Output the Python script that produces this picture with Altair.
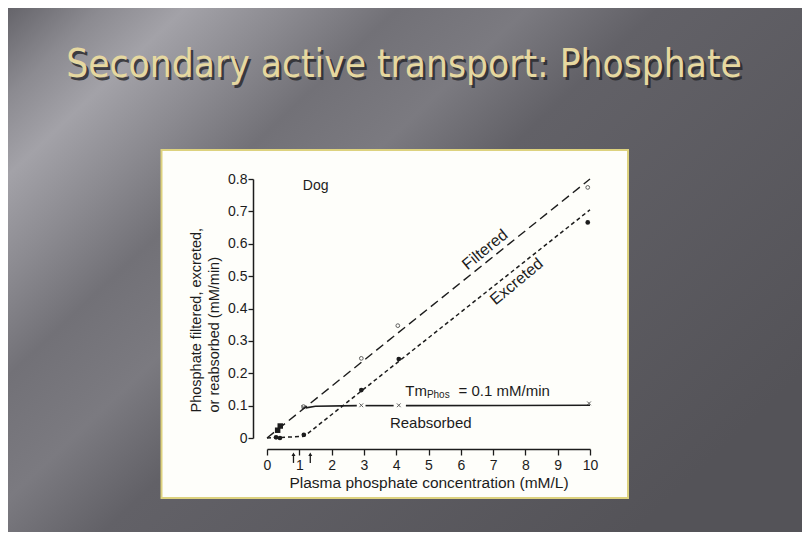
import altair as alt
import pandas as pd

# ---------------- data ----------------
x_ticks = [0, 1, 2, 3, 4, 5, 6, 7, 8, 9, 10]
y_ticks = [0, 0.1, 0.2, 0.3, 0.4, 0.5, 0.6, 0.7, 0.8]

filtered_line_x = [0, 10]
filtered_line_y = [0.0, 0.8]
excreted_line_x = [0, 1.15, 10]
excreted_line_y = [0.0, 0.005, 0.705]
reabs_seg = [1, 1, 1, 2, 2, 3, 3]
reabs_line_x = [1.2, 1.5, 2.78, 3.05, 3.92, 4.3, 10]
reabs_line_y = [0.093, 0.098, 0.1, 0.1, 0.1, 0.1, 0.101]

filtered_pts_x = [1.13, 2.92, 4.05, 9.93]
filtered_pts_y = [0.097, 0.246, 0.347, 0.774]
low_pts_x = [0.33, 0.41]
low_pts_y = [0.024, 0.037]
excreted_pts_x = [0.28, 0.40, 1.14, 2.92, 4.08, 9.93]
excreted_pts_y = [0.002, 0.0, 0.01, 0.148, 0.244, 0.666]
reabs_pts_x = [1.13, 2.92, 4.08, 9.97]
reabs_pts_y = [0.095, 0.101, 0.101, 0.107]
arrow_x = [0.82, 1.34]

title_text = "Secondary active transport: Phosphate"
x_title = "Plasma phosphate concentration (mM/L)"
y_title = ["Phosphate filtered, excreted,", "or reabsorbed (mM/min)"]

# ---------------- style ----------------
INK = "#1c1c1c"
FONT = "Liberation Sans"
TITLE_FONT = "Liberation Sans Narrow, DejaVu Sans Condensed, sans-serif"
W, H = 323, 259
PAD = {"left": 259, "top": 171, "right": 212, "bottom": 94}

x_scale = alt.Scale(domain=[0, 10], nice=False, zero=False)
y_scale = alt.Scale(domain=[0, 0.8], nice=False, zero=False)

x_axis = alt.Axis(
    values=x_ticks, format="d", offset=11, tickSize=6, tickColor=INK, tickWidth=1.3,
    domainColor=INK, domainWidth=1.5, labelFont=FONT, labelFontSize=14, labelColor=INK,
    labelPadding=3, labelFlush=False, labelOverlap=False, grid=False, zindex=2,
    title=x_title, titleFont=FONT, titleFontSize=15.5, titleFontWeight="normal",
    titleColor=INK, titleX=161.5, titleY=38, titleAlign="center", titleBaseline="alphabetic",
)
y_axis = alt.Axis(
    values=y_ticks, format=".1~f", offset=14, tickSize=5, tickColor=INK, tickWidth=1.3,
    domainColor=INK, domainWidth=1.5, labelFont=FONT, labelFontSize=14, labelColor=INK,
    labelPadding=1, labelFlush=False, labelOverlap=False, grid=False, zindex=2,
    title=y_title, titleFont=FONT, titleFontSize=14.5, titleFontWeight="normal",
    titleColor=INK, titleAngle=270, titleX=-52.5, titleY=233, titleAlign="left",
    titleBaseline="alphabetic", titleLineHeight=18,
)

def xe(field="x"):
    return alt.X(f"{field}:Q", scale=x_scale, axis=x_axis)

def ye(field="y"):
    return alt.Y(f"{field}:Q", scale=y_scale, axis=y_axis)

one = pd.DataFrame({"k": [0]})

# slide background with gradient
bg_grad = alt.LinearGradient(
    gradient="linear", x1=0, y1=0, x2=1, y2=0.7,
    stops=[
        alt.GradientStop(color="#65646a", offset=0),
        alt.GradientStop(color="#8c8b91", offset=0.08),
        alt.GradientStop(color="#a3a2a8", offset=0.15),
        alt.GradientStop(color="#8b8a90", offset=0.24),
        alt.GradientStop(color="#727177", offset=0.33),
        alt.GradientStop(color="#7b7a80", offset=0.44),
        alt.GradientStop(color="#626167", offset=0.55),
        alt.GradientStop(color="#545358", offset=1),
    ],
)
background = alt.Chart(one).mark_rect(color=bg_grad).encode(
    x=alt.value(-PAD["left"]), x2=alt.value(W + PAD["right"]),
    y=alt.value(-PAD["top"]), y2=alt.value(H + PAD["bottom"]),
)

# cream inset panel
panel = alt.Chart(one).mark_rect(fill="#fefefa", stroke="#ddd27e", strokeWidth=2).encode(
    x=alt.value(-105.5), x2=alt.value(361), y=alt.value(-29), y2=alt.value(319),
)

# slide title with shadow
title_shadow = alt.Chart(one).mark_text(
    text=title_text, font=TITLE_FONT,
    fontSize=38.5, color="#26262a", opacity=0.8, align="center", baseline="alphabetic",
).encode(x=alt.value(139.5), y=alt.value(-99.5))
title_main = alt.Chart(one).mark_text(
    text=title_text, font=TITLE_FONT,
    fontSize=38.5, color="#e6d8a0", align="center", baseline="alphabetic",
).encode(x=alt.value(137), y=alt.value(-102))

# lines
filtered_line = alt.Chart(pd.DataFrame({"x": filtered_line_x, "y": filtered_line_y})).mark_line(
    color=INK, strokeWidth=1.4, strokeDash=[9, 5]
).encode(x=xe(), y=ye())
excreted_line = alt.Chart(pd.DataFrame({"x": excreted_line_x, "y": excreted_line_y})).mark_line(
    color=INK, strokeWidth=1.5, strokeDash=[4, 3]
).encode(x=xe(), y=ye())
reabs_line = alt.Chart(pd.DataFrame({"x": reabs_line_x, "y": reabs_line_y, "seg": reabs_seg})).mark_line(
    color=INK, strokeWidth=1.6
).encode(x=xe(), y=ye(), detail="seg:N")

# points
filtered_pts = alt.Chart(pd.DataFrame({"x": filtered_pts_x, "y": filtered_pts_y})).mark_point(
    shape="circle", filled=False, size=14, strokeWidth=1, color=INK
).encode(x=xe(), y=ye())
low_pts = alt.Chart(pd.DataFrame({"x": low_pts_x, "y": low_pts_y})).mark_point(
    shape="square", filled=True, size=30, color=INK, opacity=1
).encode(x=xe(), y=ye())
excreted_pts = alt.Chart(pd.DataFrame({"x": excreted_pts_x, "y": excreted_pts_y})).mark_point(
    shape="circle", filled=True, size=22, color=INK, opacity=1
).encode(x=xe(), y=ye())
reabs_pts = alt.Chart(pd.DataFrame({"x": reabs_pts_x, "y": reabs_pts_y})).mark_point(
    shape="M-1,-1L1,1M-1,1L1,-1", filled=False, size=14, strokeWidth=1, color=INK
).encode(x=xe(), y=ye())

# arrows under the x axis
arrow_df = pd.DataFrame({"x": arrow_x, "y": [-0.05] * len(arrow_x), "y2": [-0.077] * len(arrow_x)})
arrow_shaft = alt.Chart(arrow_df).mark_rule(color=INK, strokeWidth=1.3).encode(
    x=xe(), y=ye(), y2="y2:Q"
)
arrow_head = alt.Chart(arrow_df).mark_point(
    shape="triangle-up", filled=True, size=16, color=INK, opacity=1
).encode(x=xe(), y=ye())

def label(text, x, y, size=15, angle=0, align="center", baseline="middle"):
    return alt.Chart(pd.DataFrame({"x": [x], "y": [y], "t": [text]})).mark_text(
        font=FONT, fontSize=size, color=INK, angle=angle, align=align, baseline=baseline
    ).encode(x=xe(), y=ye(), text="t:N")

labels = [
    label("Dog", 1.11, 0.779, size=14, align="left"),
    label("Filtered", 6.75, 0.582, size=16, angle=320.5),
    label("Excreted", 7.73, 0.483, size=16, angle=320.5),
    label("Reabsorbed", 5.07, 0.047),
    label("Tm", 4.28, 0.131, align="left", baseline="alphabetic"),
    label("Phos", 4.95, 0.123, size=10, align="left", baseline="alphabetic"),
    label("= 0.1 mM/min", 5.93, 0.131, align="left", baseline="alphabetic"),
]

chart = alt.layer(
    background, panel, title_shadow, title_main,
    filtered_line, excreted_line, reabs_line,
    filtered_pts, low_pts, excreted_pts, reabs_pts,
    arrow_shaft, arrow_head, *labels,
).properties(
    width=W, height=H, padding=PAD,
    autosize=alt.AutoSizeParams(type="none"),
).configure_view(stroke=None).configure(background="#5e5d63")

chart.save("out.html", embed_options={"renderer": "svg", "actions": False})
